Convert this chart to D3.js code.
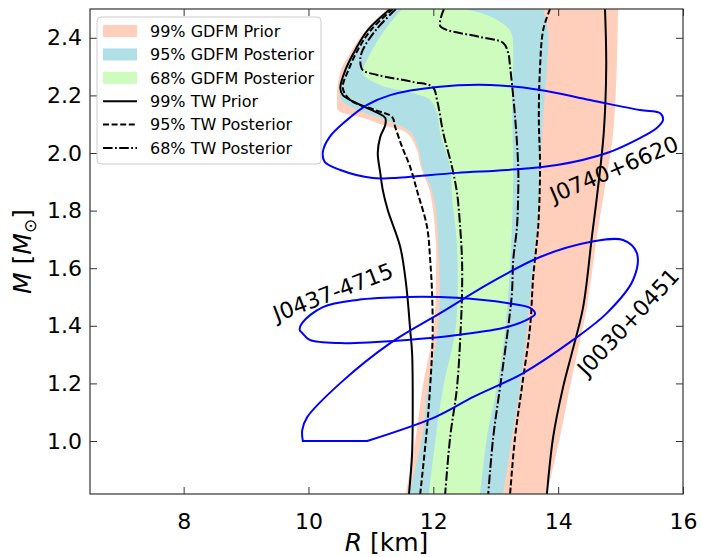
<!DOCTYPE html>
<html><head><meta charset="utf-8">
<script src="https://cdn.jsdelivr.net/npm/d3@7"></script>
<style>body{margin:0;background:#fff;} text{font-family:"DejaVu Sans",sans-serif;}</style>
</head><body><svg id="c" width="701" height="557"></svg>
<script>
// ---------- data (R [km], M [Msun]) ----------
const xTicks = [8, 10, 12, 14, 16];
const yTicks = [1.0, 1.2, 1.4, 1.6, 1.8, 2.0, 2.2, 2.4];
const xDomain = [6.5, 16];
const yDomain = [0.816, 2.5];

// 99% GDFM prior band edges
const priorLeft = [[11.26,2.50],[10.92,2.427],[10.70,2.358],[10.52,2.288],[10.46,2.219],[10.46,2.174],[10.47,2.149],[10.87,2.122],[11.19,2.097],[11.58,2.069],[11.74,2.010],[11.80,1.951],[11.95,1.861],[12.04,1.688],[12.04,1.559],[12.01,1.396],[11.83,1.188],[11.72,1.014],[11.56,0.816]];
const priorRight = [[14.96,2.50],[14.94,2.299],[14.88,2.069],[14.75,1.882],[14.62,1.708],[14.46,1.465],[14.19,1.188],[14.03,1.014],[13.82,0.816]];
// 95% GDFM posterior band edges
const post95Left = [[11.32,2.50],[10.99,2.427],[10.76,2.358],[10.59,2.288],[10.51,2.226],[10.52,2.184],[10.87,2.142],[11.23,2.115],[11.63,2.073],[11.77,2.010],[11.82,1.951],[11.99,1.861],[12.08,1.688],[12.08,1.396],[11.91,1.188],[11.82,1.014],[11.61,0.816]];
const post95Right = [[13.76,2.50],[13.84,2.417],[13.82,2.299],[13.76,2.125],[13.71,1.951],[13.66,1.743],[13.58,1.569],[13.50,1.396],[13.39,1.188],[13.26,1.014],[13.12,0.816]];
// 68% GDFM posterior band edges
const post68Left = [[11.50,2.50],[11.19,2.417],[10.94,2.323],[10.87,2.278],[11.15,2.236],[11.67,2.208],[11.95,2.184],[12.06,2.139],[12.11,2.069],[12.27,1.951],[12.30,1.847],[12.38,1.674],[12.36,1.396],[12.16,1.188],[12.04,1.014],[11.93,0.816]];
const post68Right = [[12.48,2.50],[12.86,2.479],[13.18,2.4375],[13.26,2.41],[13.26,2.184],[13.28,1.951],[13.26,1.743],[13.20,1.514],[13.15,1.385],[13.02,1.188],[12.86,1.014],[12.75,0.816]];

// TW contours (left and right branches)
const twPriorLeft = [[11.31,2.50],[10.95,2.427],[10.75,2.358],[10.59,2.288],[10.51,2.226],[10.55,2.201],[10.83,2.167],[11.11,2.139],[11.23,2.122],[11.23,2.097],[11.15,2.056],[11.11,2.000],[11.15,1.931],[11.19,1.872],[11.27,1.802],[11.47,1.674],[11.55,1.569],[11.59,1.490],[11.63,1.385],[11.66,1.306],[11.67,1.132],[11.66,0.958],[11.61,0.816]];
const twPriorRight = [[14.75,2.50],[14.77,2.299],[14.73,2.069],[14.64,1.882],[14.54,1.708],[14.40,1.465],[14.22,1.306],[14.08,1.188],[13.92,1.014],[13.82,0.816]];
const tw95Left = [[11.35,2.50],[11.00,2.427],[10.79,2.358],[10.64,2.288],[10.55,2.226],[10.67,2.184],[11.07,2.149],[11.34,2.125],[11.39,2.090],[11.50,2.021],[11.63,1.951],[11.75,1.861],[11.90,1.743],[11.95,1.628],[11.98,1.514],[11.99,1.385],[11.98,1.306],[11.91,1.073],[11.79,0.816]];
const tw95Right = [[13.87,2.50],[13.76,2.427],[13.71,2.299],[13.69,2.125],[13.71,1.951],[13.68,1.743],[13.60,1.569],[13.55,1.396],[13.42,1.188],[13.31,1.014],[13.23,0.816]];
const tw68Left = [[11.40,2.50],[11.08,2.427],[10.87,2.358],[10.83,2.323],[10.87,2.288],[11.10,2.271],[11.67,2.247],[11.99,2.229],[12.06,2.184],[12.16,2.069],[12.30,1.951],[12.38,1.861],[12.43,1.743],[12.46,1.628],[12.46,1.514],[12.44,1.396],[12.38,1.188],[12.27,1.014],[12.19,0.816]];
const tw68Right = [[12.17,2.50],[12.12,2.469],[12.11,2.441],[12.22,2.427],[12.75,2.403],[13.12,2.382],[13.20,2.347],[13.23,2.299],[13.31,2.125],[13.36,1.951],[13.36,1.861],[13.34,1.743],[13.28,1.628],[13.26,1.514],[13.20,1.396],[13.07,1.188],[12.96,1.014],[12.88,0.816]];

// Pulsar credible contours
const j0740 = [[10.23,2.003],[10.34,2.056],[10.62,2.115],[10.94,2.167],[11.31,2.201],[12.06,2.229],[12.91,2.236],[13.71,2.219],[14.51,2.184],[15.31,2.149],[15.63,2.139],[15.68,2.115],[15.58,2.087],[15.31,2.052],[14.78,2.000],[13.98,1.958],[13.18,1.941],[12.38,1.931],[11.35,1.913],[11.03,1.913],[10.51,1.941],[10.26,1.969]];
const j0437 = [[9.86,1.385],[9.90,1.410],[10.23,1.465],[10.78,1.490],[11.58,1.500],[12.38,1.497],[13.18,1.479],[13.55,1.462],[13.63,1.441],[13.55,1.427],[13.18,1.396],[12.38,1.368],[11.58,1.351],[10.51,1.340],[10.02,1.351],[9.90,1.375]];
const j0030 = [[10.94,1.000],[12.03,1.083],[12.64,1.153],[13.44,1.236],[14.24,1.351],[14.78,1.444],[15.20,1.559],[15.26,1.653],[15.04,1.698],[14.51,1.691],[13.71,1.639],[12.91,1.549],[12.11,1.444],[11.31,1.340],[10.51,1.201],[9.98,1.083],[9.90,1.038],[9.91,1.000]];

const pulsarNames = ["J0740+6620", "J0437-4715", "J0030+0451"];
const legendLabels = ["99% GDFM Prior","95% GDFM Posterior","68% GDFM Posterior","99% TW Prior","95% TW Posterior","68% TW Posterior"];

// ---------- layout ----------
const X0 = 90, X1 = 683, Y0 = 9, Y1 = 494;
const cPrior = "#ffcfbc", c95 = "#b0e0e6", c68 = "#cefcbe";
const dashed = "6,2.6", dashdot = "9.6,2.4,1.8,2.4";

const svg = d3.select("#c");
const x = d3.scaleLinear().domain(xDomain).range([X0, X1]);
const y = d3.scaleLinear().domain(yDomain).range([Y1, Y0]);

svg.append("defs").append("clipPath").attr("id","clip")
  .append("rect").attr("x",X0).attr("y",Y0).attr("width",X1-X0).attr("height",Y1-Y0);

const line = d3.line().x(d=>x(d[0])).y(d=>y(d[1])).curve(d3.curveCatmullRom.alpha(0.5));
const closedLine = d3.line().x(d=>x(d[0])).y(d=>y(d[1])).curve(d3.curveCatmullRomClosed.alpha(0.5));
function bandPath(l, r){
  const a = line(l); const b = line(r.slice().reverse());
  return a + "L" + b.slice(1) + "Z";
}

const plot = svg.append("g").attr("clip-path","url(#clip)");
plot.append("path").attr("d", bandPath(priorLeft, priorRight)).attr("fill", cPrior);
plot.append("path").attr("d", bandPath(post95Left, post95Right)).attr("fill", c95);
plot.append("path").attr("d", bandPath(post68Left, post68Right)).attr("fill", c68);

const tw = [[twPriorLeft,null],[twPriorRight,null],[tw95Left,dashed],[tw95Right,dashed],[tw68Left,dashdot],[tw68Right,dashdot]];
tw.forEach(([pts,da])=>{
  plot.append("path").attr("d", line(pts)).attr("fill","none").attr("stroke","#000")
    .attr("stroke-width",2).attr("stroke-dasharray", da);
});

plot.append("path").attr("d", closedLine(j0740)).attr("fill","none").attr("stroke","#0000ff").attr("stroke-width",2);
plot.append("path").attr("d", closedLine(j0437)).attr("fill","none").attr("stroke","#0000ff").attr("stroke-width",2);
plot.append("path").attr("d", line(j0030)+"Z").attr("fill","none").attr("stroke","#0000ff").attr("stroke-width",2);

// labels
const labelPos = [[614,169,-23],[333,292,-21],[628,322,-47]];
pulsarNames.forEach((n,i)=>{
  const [cx,cy,a] = labelPos[i];
  svg.append("text").attr("transform",`translate(${cx},${cy}) rotate(${a})`)
    .attr("text-anchor","middle").attr("dy","0.36em").attr("font-size",22).attr("fill","#000").text(n);
});

// axes
function styleAxis(g){ g.select(".domain").remove(); g.selectAll(".tick line").attr("stroke","#333"); g.selectAll("text").attr("fill","#000").attr("font-family","DejaVu Sans"); }
svg.append("g").attr("transform",`translate(0,${Y1})`)
  .call(d3.axisBottom(x).tickValues(xTicks).tickSizeInner(-7).tickSizeOuter(0).tickPadding(19).tickFormat(d3.format("d")))
  .call(styleAxis).selectAll("text").attr("font-size",22);
svg.append("g").attr("transform",`translate(0,${Y0})`)
  .call(d3.axisTop(x).tickValues(xTicks).tickSizeInner(-7).tickSizeOuter(0).tickFormat(""))
  .call(styleAxis);
svg.append("g").attr("transform",`translate(${X0},0)`)
  .call(d3.axisLeft(y).tickValues(yTicks).tickSizeInner(-7).tickSizeOuter(0).tickPadding(8).tickFormat(d3.format(".1f")))
  .call(styleAxis).selectAll("text").attr("font-size",22);
svg.append("g").attr("transform",`translate(${X1},0)`)
  .call(d3.axisRight(y).tickValues(yTicks).tickSizeInner(-7).tickSizeOuter(0).tickFormat(""))
  .call(styleAxis);
svg.append("rect").attr("x",X0).attr("y",Y0).attr("width",X1-X0).attr("height",Y1-Y0)
  .attr("fill","none").attr("stroke","#333").attr("stroke-width",1.2);

// axis titles
const xt = svg.append("text").attr("x",(X0+X1)/2).attr("y",551).attr("text-anchor","middle").attr("font-size",25);
xt.append("tspan").attr("font-style","italic").text("R");
xt.append("tspan").text(" [km]");
const yt = svg.append("text").attr("transform",`translate(31,${(Y0+Y1)/2}) rotate(-90)`).attr("text-anchor","middle").attr("font-size",25);
yt.append("tspan").attr("font-style","italic").text("M");
yt.append("tspan").text(" [");
yt.append("tspan").attr("font-style","italic").text("M");
yt.append("tspan").attr("font-size",17).attr("dy",5).text("⊙");
yt.append("tspan").attr("dy",-5).text("]");

// legend
const lg = svg.append("g");
lg.append("rect").attr("x",97).attr("y",17).attr("width",224).attr("height",147).attr("rx",4)
  .attr("fill","#fff").attr("fill-opacity",0.85).attr("stroke","#cccccc").attr("stroke-width",1);
const swatch = [cPrior, c95, c68];
const lDash = [null, dashed, dashdot];
legendLabels.forEach((t,i)=>{
  const cy = 31 + i*23.4;
  if(i<3){
    lg.append("rect").attr("x",103).attr("y",cy-6).attr("width",34).attr("height",12).attr("fill",swatch[i]);
  } else {
    lg.append("line").attr("x1",103).attr("x2",137).attr("y1",cy).attr("y2",cy)
      .attr("stroke","#000").attr("stroke-width",2).attr("stroke-dasharray",lDash[i-3]);
  }
  lg.append("text").attr("x",150).attr("y",cy).attr("dy","0.36em").attr("font-size",16).attr("fill","#000").text(t);
});
</script></body></html>
